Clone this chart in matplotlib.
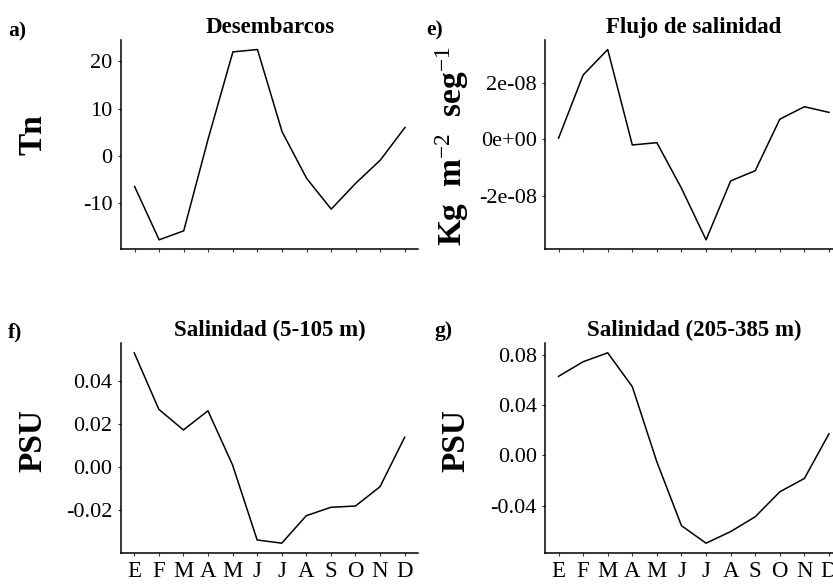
import numpy as np
import matplotlib
matplotlib.use("Agg")
from matplotlib import pyplot as plt

plt.rcParams['font.family'] = ['Liberation Serif', 'DejaVu Serif']
plt.rcParams['mathtext.fontset'] = 'custom'
plt.rcParams['mathtext.rm'] = 'Liberation Serif'
plt.rcParams['mathtext.it'] = 'Liberation Serif:italic'
plt.rcParams['mathtext.bf'] = 'Liberation Serif:bold'
plt.rcParams['axes.unicode_minus'] = False

# monthly anomalies
meses = ['E', 'F', 'M', 'A', 'M', 'J', 'J', 'A', 'S', 'O', 'N', 'D']
desembarcos = [-6.5, -17.8, -15.9, 3.7, 22.0, 22.5, 5.1, -4.8, -11.3, -5.8, -0.9, 6.0]
flujo_sal = [0.04e-08, 2.27e-08, 3.17e-08, -0.20e-08, -0.12e-08, -1.73e-08,
             -3.55e-08, -1.47e-08, -1.11e-08, 0.71e-08, 1.15e-08, 0.95e-08]
sal_5_105 = [0.0530, 0.0267, 0.0171, 0.0260, 0.0008, -0.0341,
             -0.0356, -0.0228, -0.0189, -0.0183, -0.0093, 0.0137]
sal_205_385 = [0.0627, 0.0743, 0.0814, 0.0545, -0.0053, -0.0559,
               -0.0698, -0.0606, -0.0488, -0.0290, -0.0184, 0.0171]

ticks_des = [-10, 0, 10, 20]
ticks_flujo = [-2e-08, 0, 2e-08]
labels_flujo = ['-2e-08', '0e+00', '2e-08']
ticks_sup = [-0.02, 0.00, 0.02, 0.04]
ticks_prof = [-0.04, 0.00, 0.04, 0.08]


def panel(fig, rect, y, title, ylabel, letter, letter_xy, label_xy,
          yticks, ylabels=None, show_months=False):
    ax = fig.add_axes(rect)
    x = np.arange(1, len(y) + 1)
    ax.plot(x, y, color='black', lw=1.1)
    ax.margins(x=0.05, y=0.05)
    for s in ['top', 'right']:
        ax.spines[s].set_visible(False)
    for s in ['left', 'bottom']:
        ax.spines[s].set_linewidth(1.1)
    ax.tick_params(length=2.5, width=0.8, color='#333333', labelsize=16,
                   pad=3.5, labelcolor='black')
    ax.set_xticks(x)
    if show_months:
        ax.set_xticklabels(meses, fontsize=16.5)
    else:
        ax.set_xticklabels([])
    if ylabels is None:
        ax.set_yticks(yticks)
    else:
        ax.set_yticks(yticks, ylabels)
    ax.set_title(title, fontsize=16.5, fontweight='bold', pad=5)
    ax.set_ylabel(ylabel, fontsize=24, fontweight='bold', va='center')
    ax.yaxis.set_label_coords(*label_xy)
    fig.text(letter_xy[0], letter_xy[1], letter, fontsize=15.5,
             fontweight='bold', va='baseline')
    return ax


fig = plt.figure(figsize=(8.33, 5.85), dpi=100)

panel(fig, [0.1453, 0.5738, 0.3571, 0.3578], desembarcos, 'Desembarcos',
      'Tn', 'a)', (0.010, 1 - 36 / 585), (-0.296, 0.546), ticks_des)
panel(fig, [0.6543, 0.5738, 0.3571, 0.3578], flujo_sal, 'Flujo de salinidad',
      r'Kg  m$^{-2}$  seg$^{-1}$', 'e)', (0.512, 1 - 35 / 585),
      (-0.312, 0.494), ticks_flujo, labels_flujo)
panel(fig, [0.1449, 0.0552, 0.3571, 0.3580], sal_5_105, 'Salinidad (5-105 m)',
      'PSU', 'f)', (0.010, 1 - 337 / 585), (-0.295, 0.538), ticks_sup,
      ['%.2f' % v for v in ticks_sup], show_months=True)
panel(fig, [0.6543, 0.0552, 0.3571, 0.3580], sal_205_385,
      'Salinidad (205-385 m)', 'PSU', 'g)', (0.522, 1 - 336 / 585),
      (-0.299, 0.538), ticks_prof, ['%.2f' % v for v in ticks_prof],
      show_months=True)

fig.savefig('out.png', dpi=100)
